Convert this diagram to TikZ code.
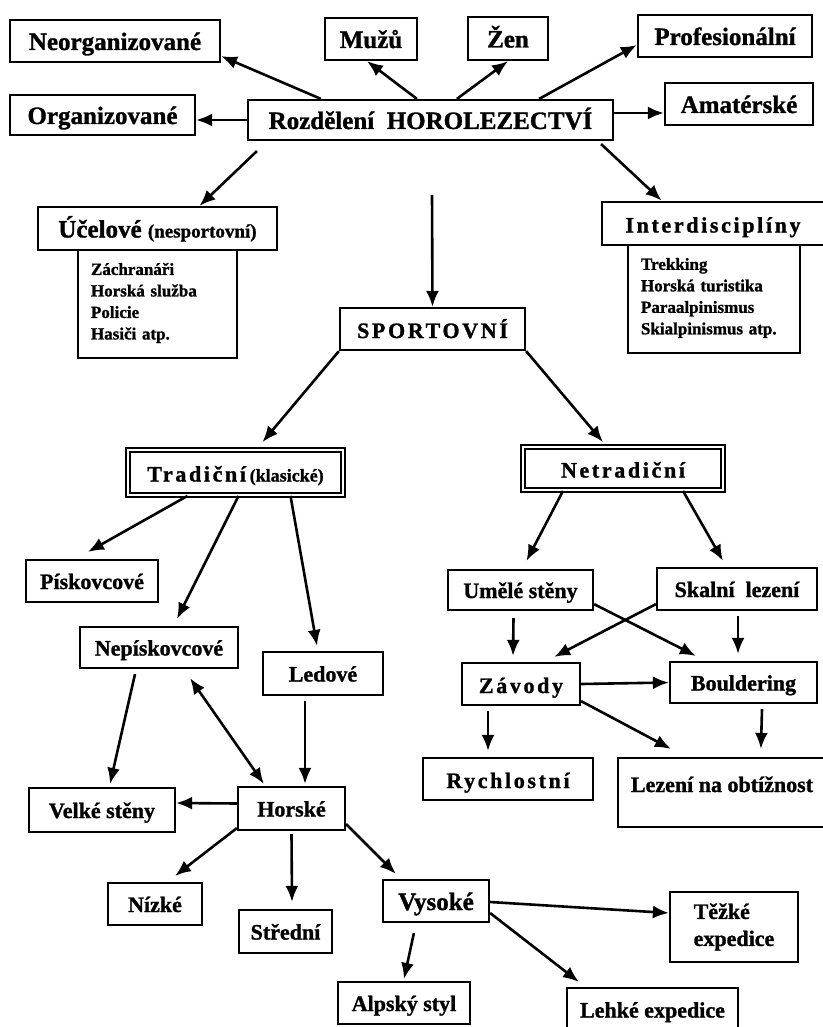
\documentclass[tikz,border=0pt]{standalone}
\usepackage{fontspec}
\setmainfont{Liberation Serif}[BoldFeatures={FakeBold=1.2}]
\newfontfamily\spaced[LetterSpace=12, BoldFeatures={FakeBold=1.2}]{Liberation Serif}
\usetikzlibrary{positioning, calc, arrows.meta}
\tikzstyle{Frame} = [draw, line width=2.2pt, fill=white, inner sep=2pt]
\tikzstyle{Box} = [
	Frame, text height=19pt, text depth=3pt,
	font=\bfseries\fontsize{22}{26}\selectfont
	]
\tikzstyle{Top} = [Box, text height=21pt, font=\bfseries\fontsize{25}{29}\selectfont]
\tikzstyle{Spaced} = [Box, text height=21pt, font=\spaced\bfseries\fontsize{22}{26}\selectfont]
\tikzstyle{Double} = [Spaced, double, double distance=1.8pt, line width=1.8pt]
\tikzstyle{List} = [
	Frame, align=left, inner xsep=13pt,
	font=\bfseries\fontsize{17}{21.5}\selectfont
	]
\tikzstyle{Arrow} = [
	line width=2.6pt,
	-{Latex[length=16pt,width=13pt]}
	]
\tikzstyle{BothArrow} = [
	line width=2.6pt,
	{Latex[length=16pt,width=13pt]}-{Latex[length=16pt,width=13pt]}
	]
\begin{document}
\begin{tikzpicture}[x=1pt, y=-1pt]
	\useasboundingbox[fill=white] (0,0) rectangle (822,1027);
	%nodes:
		\node [Top, minimum width=365pt, minimum height=40pt] (1) at (430.5,120) {Rozdělení\ \ HOROLEZECTVÍ};
		\node [Top, minimum width=210pt, minimum height=42pt] (2) at (115,41) {Neorganizované};
		\node [Top, minimum width=185pt, minimum height=40pt] (3) at (102.5,115) {Organizované};
		\node [Top, minimum width=92pt, minimum height=42pt] (4) at (371,39) {Mužů};
		\node [Top, minimum width=80pt, minimum height=43pt] (5) at (508,38.5) {Žen};
		\node [Top, minimum width=174pt, minimum height=42pt] (6) at (725,36) {Profesionální};
		\node [Top, minimum width=148pt, minimum height=42pt] (7) at (739,104) {Amatérské};
		\node [List, text width=133pt, minimum height=110pt] (9) at (157.5,303) {Záchranáři\\Horská služba\\Policie\\Hasiči atp.};
		\node [Top, minimum width=239pt, minimum height=43pt] (8) at (157.5,228.5) {Účelové {\fontsize{19}{22}\selectfont(nesportovní)}};
		\node [List, text width=146pt, minimum height=110pt] (11) at (714,298) {Trekking\\Horská turistika\\Paraalpinismus\\Skialpinismus atp.};
		\node [Spaced, line width=2.8pt, minimum width=222pt, minimum height=43pt] (10) at (713,223.5) {Interdisciplíny};
		\coordinate (s) at (432,195);
		\node [Spaced, minimum width=185pt, minimum height=42pt] (12) at (432.5,329) {SPORTOVNÍ};
		\node [Double, minimum width=215pt, minimum height=45pt] (13) at (235.5,472.5) {Tradiční\,{\rmfamily\fontsize{18}{22}\selectfont(klasické)}};
		\node [Double, minimum width=200pt, minimum height=43pt] (14) at (623,468.5) {Netradiční};
		\node [Box, minimum width=132pt, minimum height=42pt] (15) at (92,581) {Pískovcové};
		\node [Box, minimum width=158pt, minimum height=41pt] (16) at (159,647.5) {Nepískovcové};
		\node [Box, minimum width=120pt, minimum height=43pt] (17) at (323,673.5) {Ledové};
		\node [Box, minimum width=146pt, minimum height=44pt] (18) at (102,810) {Velké stěny};
		\node [Box, minimum width=107pt, minimum height=43pt] (19) at (291.5,808.5) {Horské};
		\node [Box, minimum width=94pt, minimum height=42pt] (20) at (155,904) {Nízké};
		\node [Box, minimum width=93pt, minimum height=43pt] (21) at (285.5,931.5) {Střední};
		\node [Box, minimum width=106pt, minimum height=42pt, text height=21pt, font=\bfseries\fontsize{25}{29}\selectfont] (22) at (436,901) {Vysoké};
		\node [Box, minimum width=132pt, minimum height=42pt] (23) at (404,1003) {Alpský styl};
		\node [Frame, align=left, minimum width=128pt, minimum height=70pt, font=\bfseries\fontsize{22}{27}\selectfont] (24) at (734,927) {Těžké\\expedice};
		\node [Box, minimum width=171pt, minimum height=43pt] (25) at (652.5,1009.5) {Lehké expedice};
		\node [Box, minimum width=145pt, minimum height=40pt] (26) at (520.5,590) {Umělé stěny};
		\node [Box, minimum width=160pt, minimum height=42pt] (27) at (737,589) {Skalní\ \ lezení};
		\node [Spaced, minimum width=118pt, minimum height=42pt] (28) at (521,684) {Závody};
		\node [Box, minimum width=147pt, minimum height=41pt] (29) at (743.5,682.5) {Bouldering};
		\node [Spaced, minimum width=170pt, minimum height=42pt] (30) at (508,779) {Rychlostní};
		\node [Box, inner ysep=0pt, text height=34pt, text depth=35pt, minimum width=208pt] (31) at (722,792.5) {Lezení na obtížnost};
	%edges:
		\draw[Arrow] ([xshift=74pt]1.north west) -- ([yshift=7pt]2.south east);
		\draw[Arrow] (1.west) -- ([yshift=-5pt]3.east);
		\draw[Arrow] ([xshift=170pt]1.north west) -- ([xshift=-4pt]4.south);
		\draw[Arrow] ([xshift=210pt]1.north west) -- (5.south);
		\draw[Arrow] ([xshift=-75pt]1.north east) -- ([yshift=-9pt]6.west);
		\draw[Arrow] ([yshift=7pt]1.east) -- ([yshift=-9pt]7.west);
		\draw[Arrow] ([xshift=10pt,yshift=-10pt]1.south west) -- ([xshift=42pt]8.north);
		\draw[Arrow] ([xshift=-13pt,yshift=-3pt]1.south east) -- ([xshift=61pt]10.north west);
		\draw[Arrow] (s) -- (12.north);
		\draw[Arrow] (12.south west) -- ([xshift=27pt,yshift=7pt]13.north);
		\draw[Arrow] (12.south east) -- ([xshift=-20pt,yshift=4pt]14.north);
		\draw[Arrow] ([xshift=-48pt]13.south) -- ([xshift=-4pt,yshift=7pt]15.north);
		\draw[Arrow] ([xshift=3pt]13.south) -- ([xshift=18pt,yshift=7pt]16.north);
		\draw[Arrow] ([xshift=55pt]13.south) -- ([xshift=-6pt,yshift=5pt]17.north);
		\draw[Arrow] ([xshift=-24pt,yshift=-5pt]16.south) -- ([xshift=8pt,yshift=3pt]18.north);
		\draw[BothArrow] ([xshift=31pt,yshift=-9pt]16.south) -- ([xshift=27pt,yshift=2pt]19.north west);
		\draw[Arrow] ([xshift=-18pt,yshift=-5pt]17.south) -- ([xshift=13.5pt,yshift=2pt]19.north);
		\draw[Arrow] ([yshift=5pt]19.west) -- ([yshift=7pt]18.east);
		\draw[Arrow] ([yshift=3pt]19.south west) -- ([xshift=20pt,yshift=6pt]20.north);
		\draw[Arrow] ([yshift=-3pt]19.south) -- ([xshift=6.5pt,yshift=7pt]21.north);
		\draw[Arrow] ([yshift=7pt]19.south east) -- ([xshift=14pt,yshift=5pt]22.north west);
		\draw[Arrow] ([xshift=32pt,yshift=-10pt]22.south west) -- ([yshift=2pt]23.north);
		\draw[Arrow] ([yshift=-1pt]22.east) -- ([yshift=14pt]24.west);
		\draw[Arrow] ([yshift=-12pt]22.east) -- ([xshift=13pt,yshift=5pt]25.north west);
		\draw[Arrow] ([xshift=-60pt]14.south) -- ([xshift=6pt,yshift=8pt]26.north);
		\draw[Arrow] ([xshift=60pt]14.south) -- ([xshift=-14pt,yshift=6pt]27.north);
		\draw[Arrow] ([xshift=-7pt,yshift=-7pt]26.south) -- ([xshift=-8pt,yshift=6pt]28.north);
		\draw[Arrow] ([yshift=7pt]26.south east) -- ([xshift=27pt,yshift=5pt]29.north west);
		\draw[Arrow] ([yshift=7pt]27.south west) -- ([xshift=-27pt,yshift=5pt]28.north east);
		\draw[Arrow] ([xshift=1pt,yshift=-5pt]27.south) -- ([xshift=-5.5pt,yshift=7pt]29.north);
		\draw[Arrow] (28.east) -- (29.west);
		\draw[Arrow] ([xshift=-33pt,yshift=-5pt]28.south) -- ([xshift=-20pt,yshift=6pt]30.north);
		\draw[Arrow] ([yshift=5pt]28.south east) -- ([xshift=54pt,yshift=8pt]31.north west);
		\draw[Arrow] ([xshift=18.5pt,yshift=-5pt]29.south) -- ([xshift=144pt,yshift=8pt]31.north west);
\end{tikzpicture}
\end{document}
